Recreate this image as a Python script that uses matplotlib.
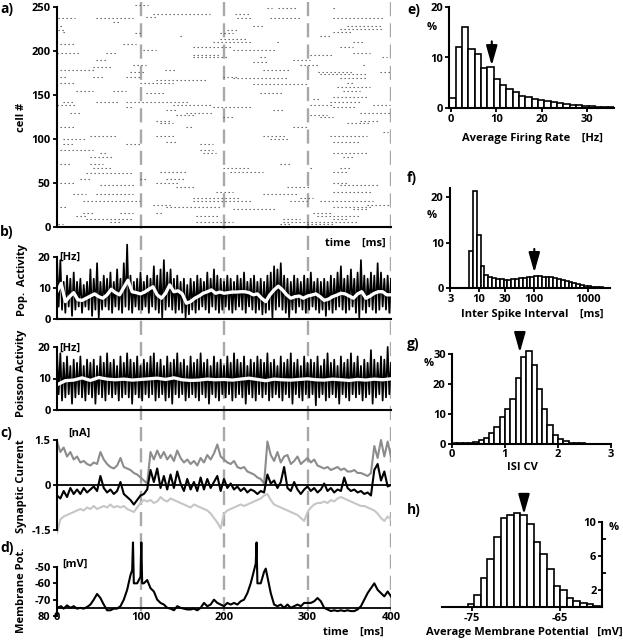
import numpy as np
import matplotlib
matplotlib.use("Agg")
import matplotlib.pyplot as plt

plt.rcParams["font.family"] = ["Open Sans", "DejaVu Sans"]
plt.rcParams["font.weight"] = "bold"
plt.rcParams["font.size"] = 8
plt.rcParams["axes.linewidth"] = 1.5
plt.rcParams["axes.facecolor"] = "none"

W, H = 623, 640

# ---------------- data ----------------
# a) raster: bursts as (cell, start ms, end ms)
raster_bursts = [
    (252, 93, 109), (249, 251, 257), (249, 265, 287), (249, 331, 333),
    (242, 115, 183), (242, 213, 231), (239, 107, 119),
    (237, 1, 21), (237, 47, 91), (237, 215, 235), (237, 255, 291), (237, 331, 391),
    (233, 67, 75), (229, 3, 6), (229, 235, 247), (229, 347, 389), (225, 339, 391),
    (224, 1, 11), (224, 203, 215), (222, 7, 11), (222, 331, 355),
    (220, 93, 103), (220, 195, 211), (217, 147, 151), (217, 315, 327), (214, 195, 227),
    (210, 187, 235), (210, 263, 267), (210, 355, 367), (208, 3, 23), (208, 79, 95),
    (205, 163, 211), (205, 339, 355), (201, 103, 119), (201, 211, 263),
    (198, 0, 27), (198, 59, 71), (198, 355, 375), (196, 163, 195), (196, 303, 331),
    (193, 163, 203), (193, 243, 251), (193, 389, 395), (190, 47, 59), (190, 283, 303),
    (187, 235, 251), (184, 91, 107), (184, 291, 315), (184, 367, 371), (182, 43, 67),
    (179, 3, 47), (179, 129, 143), (179, 247, 279), (176, 87, 107), (176, 313, 355),
    (176, 387, 400), (174, 315, 371), (171, 3, 11), (171, 43, 55), (171, 83, 99),
    (171, 199, 215), (169, 211, 275), (169, 339, 371), (167, 119, 179),
    (164, 3, 23), (164, 99, 139), (164, 347, 355), (162, 235, 299), (159, 335, 375),
    (155, 23, 43), (155, 67, 83), (155, 343, 363), (152, 107, 131), (152, 243, 271),
    (148, 331, 371), (146, 307, 315), (142, 7, 19), (142, 47, 75), (142, 83, 159),
    (142, 327, 363), (139, 0, 23), (139, 139, 187), (139, 303, 331), (139, 379, 399),
    (136, 83, 91), (136, 187, 235), (136, 331, 359), (133, 131, 143), (133, 259, 271),
    (130, 15, 27), (130, 155, 187), (130, 363, 399), (127, 143, 167), (127, 303, 323),
    (125, 199, 211), (125, 315, 331), (121, 119, 135), (121, 363, 387),
    (118, 123, 139), (118, 347, 375), (114, 3, 23), (114, 155, 163), (114, 283, 299),
    (108, 391, 397), (103, 39, 71), (103, 119, 143), (103, 247, 275), (103, 327, 371),
    (100, 7, 35), (100, 255, 279), (97, 131, 143), (97, 331, 363),
    (94, 7, 19), (94, 83, 99), (94, 171, 187), (88, 3, 43), (88, 171, 187),
    (84, 51, 59), (84, 175, 191), (84, 331, 371), (80, 39, 67), (80, 343, 355),
    (72, 3, 15), (72, 39, 55), (72, 267, 279), (67, 43, 67), (67, 199, 231),
    (67, 303, 307), (67, 339, 351), (63, 123, 155), (63, 207, 247), (63, 331, 347),
    (61, 35, 91), (54, 27, 39), (54, 99, 107), (54, 131, 155),
    (50, 3, 23), (50, 119, 147), (50, 331, 347), (48, 51, 95), (48, 339, 387),
    (46, 143, 167), (46, 275, 303), (40, 191, 211), (40, 331, 379),
    (37, 19, 35), (37, 47, 91), (37, 247, 287), (33, 163, 219), (33, 291, 307),
    (30, 31, 99), (30, 163, 235), (30, 279, 299), (30, 315, 379),
    (25, 115, 139), (25, 371, 399), (23, 3, 11), (23, 131, 195), (23, 331, 379),
    (20, 211, 263), (20, 355, 371), (16, 31, 43), (16, 75, 91), (16, 119, 127),
    (16, 307, 331), (12, 23, 35), (12, 167, 195), (12, 311, 363),
    (9, 35, 91), (9, 271, 291), (9, 331, 347), (6, 63, 75), (6, 167, 211),
    (6, 271, 359), (3, 1, 7), (3, 267, 279), (3, 299, 331),
]

# b) population activity [Hz]: peaks every 4 ms (from 0), troughs every 4 ms (from 2)
pop_hi = [20, 19, 12, 14, 13, 15, 12, 13, 11, 12,
          16, 13, 18, 12, 14, 13, 15, 12, 16, 13,
          18, 24, 14, 12, 13, 15, 12, 14, 13, 17,
          14, 16, 19, 15, 16, 13, 14, 12, 13, 11,
          13, 12, 14, 13, 12, 15, 13, 16, 14, 13,
          12, 14, 13, 12, 14, 13, 15, 12, 13, 14,
          12, 13, 12, 14, 15, 17, 16, 18, 14, 13,
          12, 14, 13, 12, 14, 13, 15, 12, 13, 12,
          13, 12, 14, 13, 15, 17, 13, 14, 16, 13,
          15, 19, 14, 13, 15, 14, 18, 15, 13, 14,
          13]
pop_lo = [4, 3, 2, 4, 1, 3, 4, 2, 4, 3,
          1, 3, 0.5, 3, 4, 3, 2, 4, 3, 2,
          4, 3, 2, 4, 3, 3, 4, 2, 4, 3,
          2, 0.5, 3, 4, 3, 2, 3, 2, 0.5, 1.5,
          3, 2, 3, 4, 3, 2, 4, 3, 2, 3,
          4, 3, 2, 3, 4, 3, 2, 4, 3, 2,
          3, 1.5, 2, 3, 0.5, 3, 4, 3, 2, 0.5,
          3, 2, 4, 3, 2, 3, 4, 3, 2, 3,
          1, 3, 2, 3, 4, 3, 2, 3, 4, 2,
          0.5, 3, 2, 4, 3, 2, 3, 4, 3, 2]
# smoothed population rate, every 5 ms
pop_mean = [8.8, 11.5, 5.6, 7.2, 8.5, 6.2, 6.0, 6.7, 7.4, 8.1,
            7.2, 6.7, 7.8, 9.6, 8.5, 7.8, 10.2, 12.5, 8.8, 8.5,
            8.1, 8.7, 9.6, 10.4, 7.8, 6.7, 8.3, 11.0, 8.8, 9.1,
            8.1, 5.1, 5.6, 6.7, 7.4, 8.3, 8.8, 9.4, 8.3, 8.7,
            8.3, 8.5, 8.7, 8.7, 8.8, 8.8, 8.5, 7.8, 8.1, 6.7,
            5.6, 7.8, 9.4, 10.6, 9.4, 7.8, 6.7, 7.2, 7.4, 6.7,
            7.4, 7.7, 8.1, 7.2, 6.0, 6.4, 7.2, 7.7, 8.3, 8.1,
            7.4, 6.7, 8.1, 8.8, 6.7, 7.4, 8.3, 8.8, 8.8, 7.8,
            7.8]

# Poisson activity [Hz]
poi_hi = [19, 18, 15, 17, 14, 16, 15, 17, 14, 16,
          15, 16, 14, 17, 15, 18, 15, 16, 14, 17,
          15, 18, 16, 15, 17, 14, 16, 15, 17, 18,
          15, 16, 14, 17, 15, 16, 18, 15, 16, 14,
          17, 15, 16, 18, 15, 16, 14, 17, 15, 16,
          14, 17, 15, 18, 16, 15, 17, 14, 16, 15,
          17, 16, 15, 18, 15, 16, 14, 17, 15, 16,
          18, 15, 16, 14, 17, 15, 16, 15, 17, 14,
          16, 18, 15, 16, 14, 17, 15, 16, 18, 15,
          17, 14, 16, 15, 19, 16, 15, 17, 16, 20,
          15]
poi_lo = [5, 3, 4, 5, 2, 4, 5, 4, 3, 5,
          4, 2, 5, 4, 3, 5, 4, 5, 3, 4,
          5, 4, 2, 5, 4, 3, 5, 4, 5, 3,
          4, 5, 3, 4, 2, 5, 4, 5, 3, 4,
          5, 4, 3, 5, 4, 2, 5, 4, 3, 5,
          4, 5, 3, 4, 5, 4, 2, 5, 4, 3,
          5, 4, 5, 3, 4, 5, 4, 3, 5, 4,
          2, 5, 4, 3, 5, 4, 5, 1.5, 4, 5,
          3, 4, 5, 4, 2, 5, 4, 3, 5, 4,
          5, 3, 4, 5, 2, 4, 5, 3, 4, 5]
# smoothed Poisson rate, every 10 ms
poi_mean = [8.0, 9.3, 9.5, 10.2, 9.4, 10.3, 9.8, 9.6, 9.8, 9.5,
            9.7, 9.9, 10.1, 9.7, 10.2, 9.6, 9.4, 9.5, 9.8, 9.6,
            9.7, 9.5, 9.8, 10.1, 9.7, 9.3, 9.8, 9.6, 9.5, 9.7,
            9.9, 9.6, 9.5, 9.8, 9.6, 9.4, 9.7, 9.5, 9.8, 9.6,
            9.9]

# c) synaptic currents [nA], every 4 ms
cur_exc = [1.45, 1.1, 1.25, 0.95, 1.1, 0.85, 0.95, 0.75, 0.8, 0.7,
           0.65, 0.75, 0.7, 1.1, 0.85, 0.7, 0.6, 0.55, 0.65, 0.9,
           0.6, 0.55, 0.5, 0.4, 0.35, 0.25, 0.15, 0.05, 1.1, 0.85,
           1.15, 0.9, 1.1, 0.85, 1.0, 0.8, 1.15, 0.9, 0.75, 0.85,
           0.7, 0.8, 0.65, 0.9, 0.75, 1.0, 0.85, 1.05, 1.35, 0.95,
           0.85, 0.75, 0.7, 0.8, 0.6, 0.55, 0.6, 0.45, 0.4, 0.35,
           0.25, 0.2, 0.05, 1.45, 1.0, 0.8, 1.1, 0.75, 0.95, 1.0,
           0.7, 0.8, 0.95, 0.7, 0.8, 0.9, 0.75, 0.85, 0.65, 0.6,
           0.55, 0.6, 0.5, 0.55, 0.6, 0.5, 0.55, 0.45, 0.45, 0.5,
           0.4, 0.4, 0.35, 0.3, 0.4, 1.3, 0.9, 1.5, 0.95, 1.45,
           0.95]
cur_inh = [-1.6, -1.15, -1.05, -1.0, -0.95, -0.9, -0.85, -0.8, -0.85, -0.75,
           -0.8, -0.7, -0.8, -0.75, -0.7, -0.75, -0.65, -0.75, -0.7, -0.75,
           -0.7, -0.8, -0.85, -0.9, -0.75, -0.6, -0.5, -0.55, -0.5, -0.6,
           -0.55, -0.4, -0.5, -0.55, -0.45, -0.5, -0.55, -0.6, -0.65, -0.7,
           -0.75, -0.65, -0.7, -0.75, -0.8, -0.85, -0.95, -1.1, -1.25, -1.45,
           -0.95, -0.85, -0.8, -0.75, -0.7, -0.65, -0.7, -0.65, -0.6, -0.55,
           -0.5, -0.45, -0.35, -0.3, -0.5, -0.65, -0.7, -0.75, -0.8, -0.85,
           -0.9, -0.95, -1.0, -1.1, -1.2, -0.9, -0.75, -0.65, -0.6, -0.6,
           -0.55, -0.6, -0.5, -0.55, -0.45, -0.4, -0.45, -0.5, -0.55, -0.6,
           -0.65, -0.7, -0.7, -0.75, -0.8, -0.85, -0.95, -1.1, -1.2, -1.05,
           -1.15]
cur_net = [-0.35, -0.45, -0.2, -0.4, -0.1, -0.3, -0.15, -0.3, -0.1, -0.25,
           -0.15, -0.05, -0.2, 0.3, -0.1, -0.25, -0.15, -0.3, -0.2, 0.1,
           -0.3, -0.4, -0.5, -0.65, -0.5, -0.35, -0.3, -0.15, 0.5, 0.1,
           0.55, -0.1, 0.3, -0.15, 0.35, -0.1, 0.45, 0.05, -0.2, 0.2,
           -0.15, 0.1, -0.2, 0.25, -0.15, 0.2, -0.1, 0.1, 0.3, -0.2,
           0.2, -0.1, 0.05, -0.15, -0.05, -0.2, -0.1, -0.25, -0.15, -0.2,
           -0.3, -0.2, -0.25, 0.35, 0.05, 0.15, -0.1, 0.1, 0.6, -0.1,
           -0.2, 0.1, -0.15, -0.3, -0.15, -0.05, -0.2, -0.1, -0.25, -0.15,
           0.05, -0.2, -0.1, -0.25, -0.15, -0.2, 0.25, -0.1, -0.2, -0.15,
           -0.25, -0.2, -0.3, -0.25, -0.35, 0.5, 0.7, 0.15, 0.45, -0.05,
           0.0]

# d) membrane potential [mV]
vm_t = [0, 5, 8, 12, 16, 20, 24, 28, 32, 36, 40, 44, 48, 52, 56, 60, 64, 68, 72, 76,
        80, 84, 88, 90, 91, 92, 96, 100, 101, 102, 104, 108, 112, 116, 120, 124, 128, 132, 136, 140,
        144, 148, 152, 156, 160, 164, 168, 172, 176, 180, 184, 188, 192, 196, 200, 204, 208, 212, 216, 220,
        224, 228, 232, 236, 238, 239, 240, 244, 248, 250, 252, 256, 260, 264, 268, 272, 276, 280, 284, 288,
        292, 296, 300, 304, 308, 312, 316, 320, 324, 328, 332, 336, 340, 344, 348, 352, 356, 360, 364, 368,
        372, 376, 380, 384, 388, 392, 396, 400]
vm_v = [-75, -74, -75.5, -73.5, -75, -74, -75.5, -75, -75.5, -74.5, -73, -70, -66.5, -69, -73, -76.5, -76.5, -75.5, -75.5, -74,
        -70, -64, -55, -52, -35, -60, -60, -56, -35, -60, -60, -58, -63, -65, -70, -72, -73, -75, -75.5, -76.5,
        -74, -75, -75.5, -76, -76, -75.5, -76.5, -75, -72, -74, -73, -70, -72, -73, -74, -72, -73, -72, -73, -71,
        -70, -66, -60, -52, -48, -35, -60, -60, -53, -51, -56, -66, -73, -74, -73, -75, -73, -75, -74, -73,
        -74, -72, -72, -72, -71, -69, -71, -75, -76, -77, -76.5, -77, -76.5, -77, -76.5, -77, -77, -76, -74, -70,
        -66, -63, -60, -64, -66, -68, -65, -68]
vm_rest = -75

marker_times = [100, 200, 300, 400]

# e) average firing rate histogram
fr_edges = [-0.4, 1.0, 2.4, 3.8, 5.2, 6.6, 8.0, 9.4, 10.8, 12.2, 13.6, 15.0, 16.4, 17.8,
            19.2, 20.6, 22.0, 23.4, 24.8, 26.2, 27.6, 29.0, 30.4, 31.8, 33.2, 34.6, 36.0]
fr_pct = [2.0, 12.1, 16.0, 11.6, 10.6, 8.0, 8.2, 5.7, 4.5, 3.7, 3.2, 2.4, 2.2,
          1.7, 1.6, 1.3, 1.2, 0.9, 0.8, 0.6, 0.5, 0.35, 0.3, 0.2, 0.15, 0.1]
fr_mean = 9.0

# f) inter spike interval histogram (log10 bin edges)
isi_log_edges = [round(0.82 + 0.07 * k, 2) for k in range(37)]
isi_pct = [8.1, 21.3, 11.7, 4.9, 2.9, 2.5, 2.2, 2.0, 1.9, 1.8,
           1.8, 1.9, 2.0, 2.1, 2.3, 2.4, 2.5, 2.6, 2.6, 2.5,
           2.5, 2.4, 2.2, 2.0, 1.8, 1.6, 1.3, 1.1, 0.9, 0.7,
           0.5, 0.4, 0.3, 0.2, 0.15, 0.1]
isi_mean = 103

# g) ISI CV histogram
cv_edges = [round(0.1 * k, 1) for k in range(27)]
cv_pct = [0.3, 0.3, 0.3, 0.4, 0.8, 1.2, 2.0, 3.8, 5.7, 8.9, 11.6, 15.0, 22.0,
          29.0, 31.0, 26.5, 18.2, 11.8, 6.3, 3.0, 1.8, 1.0, 0.5, 0.3, 0.2, 0.1]
cv_mean = 1.28

# h) average membrane potential histogram
mp_edges = [-75.5 + 0.75 * k for k in range(21)]
mp_pct = [0.35, 1.45, 3.4, 5.7, 8.2, 10.5, 10.8, 11.1, 10.8, 9.8,
          7.7, 6.2, 4.5, 2.5, 2.0, 1.1, 0.7, 0.5, 0.3, 0.1]
mp_mean = -69.1

# ---------------- figure ----------------
fig = plt.figure(figsize=(W / 100, H / 100), dpi=100)


def place(l, t, r, b):
    return fig.add_axes([l / W, 1 - b / H, (r - l) / W, (b - t) / H])


def ftext(x, y, s, **kw):
    kw.setdefault("ha", "center")
    kw.setdefault("va", "center")
    fig.text(x / W, 1 - y / H, s, **kw)


def clean(ax, left=True, bottom=True):
    ax.spines["top"].set_visible(False)
    ax.spines["right"].set_visible(False)
    ax.spines["left"].set_visible(left)
    ax.spines["bottom"].set_visible(bottom)
    ax.tick_params(width=1.3, length=3, pad=1.5)


def arrow(ax, x, top, tip):
    ax.annotate("", xy=(x, tip), xytext=(x, top),
                arrowprops=dict(arrowstyle="-|>,head_length=0.6,head_width=0.17",
                                mutation_scale=20, color="k", lw=1.5,
                                shrinkA=0, shrinkB=0),
                annotation_clip=False)


def zigzag(hi, lo, step):
    t = np.concatenate([np.arange(len(hi)) * step, np.arange(len(lo)) * step + step / 2])
    v = np.concatenate([hi, lo])
    order = np.argsort(t, kind="stable")
    return t[order], v[order]


# dashed time markers across the left column
ov = fig.add_axes([57 / W, 0, 334 / W, 1])
ov.set_xlim(0, 400)
ov.set_ylim(H, 0)
ov.axis("off")
ov.set_zorder(-1)
ov.vlines(marker_times, 2, 613, colors="#a8a8a8", lw=1.7, linestyles=[(0, (6, 3))])

# a) raster
ax = place(57, 0, 391, 227)
clean(ax)
cells, t0, t1 = zip(*raster_bursts)
ax.hlines(cells, t0, t1, colors="#555555", lw=0.8, linestyles=[(0, (1.2, 2.4))])
ax.set_xlim(0, 400)
ax.set_ylim(0, 258)
ax.spines["left"].set_bounds(0, 250)
ax.set_yticks([0, 50, 100, 150, 200, 250])
ax.set_xticks([])

# b) population activity
ax = place(57, 241.5, 391, 319)
clean(ax)
t, v = zigzag(pop_hi, pop_lo, 4)
ax.plot(t, v, color="k", lw=1.25)
ax.plot(np.arange(len(pop_mean)) * 5, pop_mean, color="white", lw=2.4)
ax.set_xlim(0, 400)
ax.set_ylim(0, 25)
ax.spines["left"].set_bounds(0, 20)
ax.set_yticks([0, 10, 20])
ax.set_xticks([])
ax.text(3, 20, "[Hz]", ha="left", va="center")

ax = place(57, 340.7, 391, 410)
clean(ax)
t, v = zigzag(poi_hi, poi_lo, 4)
ax.plot(t, v, color="k", lw=1.25)
ax.plot(np.arange(len(poi_mean)) * 10, poi_mean, color="white", lw=2.4)
ax.set_xlim(0, 400)
ax.set_ylim(0, 22)
ax.spines["left"].set_bounds(0, 20)
ax.set_yticks([0, 10, 20])
ax.set_xticks([])
ax.text(3, 19.7, "[Hz]", ha="left", va="center")

# c) synaptic currents
ax = place(57, 434, 391, 536)
clean(ax, bottom=False)
tc = np.arange(len(cur_exc)) * 4
ax.plot(tc, cur_exc, color="#8c8c8c", lw=1.5)
ax.plot(tc, cur_inh, color="#c6c6c6", lw=1.5)
ax.axhline(0, color="k", lw=1.3)
ax.plot(tc, cur_net, color="k", lw=1.5)
ax.set_xlim(0, 400)
ax.set_ylim(-1.7, 1.7)
ax.spines["left"].set_bounds(-1.5, 1.5)
ax.set_yticks([-1.5, 0, 1.5])
ax.set_yticklabels(["-1.5", "0", "1.5"])
ax.set_xticks([])
ax.text(14, 1.72, "[nA]", ha="left", va="center")

# d) membrane potential
ax = place(57, 539.2, 391, 616)
clean(ax, bottom=False)
ax.axhline(vm_rest, color="k", lw=1.3)
ax.plot(vm_t, vm_v, color="k", lw=1.5)
ax.set_xlim(0, 400)
ax.set_ylim(-80, -33)
ax.spines["left"].set_bounds(-80, -50)
ax.set_yticks([-80, -70, -60, -50])
ax.set_yticklabels(["80", "-70", "-60", "-50"])
ax.set_xticks([0, 100, 200, 300, 400])
ax.tick_params(axis="x", length=0, pad=-3)
ax.text(6, -48.2, "[mV]", ha="left", va="center")

# e) firing rate histogram
ax = place(449.2, 7, 614, 108)
clean(ax)
ax.bar(fr_edges[:-1], fr_pct, width=np.diff(fr_edges), align="edge",
       color="white", edgecolor="k", lw=1.2)
ax.set_xlim(-0.4, 36)
ax.set_ylim(0, 20)
ax.set_xticks([0, 10, 20, 30])
ax.set_yticks([0, 10, 20])
arrow(ax, fr_mean, 13.2, 8.4)

# f) ISI histogram
ax = place(450, 188, 610, 288)
clean(ax)
lefts = 10 ** np.array(isi_log_edges[:-1])
rights = 10 ** np.array(isi_log_edges[1:])
ax.bar(lefts, isi_pct, width=rights - lefts, align="edge",
       color="white", edgecolor="k", lw=1.2)
ax.set_xscale("log")
ax.set_xlim(10 ** 0.468, 10 ** 3.4)
ax.set_ylim(0, 22)
ax.set_xticks([3, 10, 30, 100, 1000])
ax.set_xticklabels(["3", "10", "30", "100", "1000"])
ax.xaxis.set_minor_locator(matplotlib.ticker.NullLocator())
ax.set_yticks([0, 10, 20])
arrow(ax, isi_mean, 8.6, 3.4)

# g) ISI CV histogram
ax = place(452, 348, 611, 444)
clean(ax)
ax.bar(cv_edges[:-1], cv_pct, width=np.diff(cv_edges), align="edge",
       color="white", edgecolor="k", lw=1.2)
ax.set_xlim(0, 3)
ax.set_ylim(0, 32)
ax.spines["left"].set_bounds(0, 30)
ax.set_xticks([0, 1, 2, 3])
ax.set_yticks([0, 10, 20, 30])
ax.tick_params(axis="x", pad=0.5)
arrow(ax, cv_mean, 36, 30.5)

# h) membrane potential histogram
ax = place(442, 509.25, 602, 607)
ax.spines["top"].set_visible(False)
ax.spines["left"].set_visible(False)
ax.bar(mp_edges[:-1], mp_pct, width=np.diff(mp_edges), align="edge",
       color="white", edgecolor="k", lw=1.2)
ax.set_xlim(-78.4, -60.25)
ax.set_ylim(0, 11.5)
ax.spines["right"].set_bounds(0, 10)
ax.yaxis.tick_right()
ax.set_yticks([2, 6, 10])
ax.set_yticks([4, 8], minor=True)
ax.tick_params(axis="y", which="major", direction="in", length=3, width=1.3, pad=-4)
ax.tick_params(axis="y", which="minor", direction="out", length=3, width=1.3)
for lbl in ax.get_yticklabels():
    lbl.set_horizontalalignment("right")
ax.set_xticks([-75, -65])
ax.set_xticklabels(["-75", "-65"])
ax.tick_params(axis="x", width=1.3, length=3, pad=1.0)
arrow(ax, mp_mean, 13.3, 10.9)

# ---------------- labels ----------------
for s, x, y in [("a)", 0, 9), ("b)", 0, 232), ("c)", 0, 433), ("d)", 0, 548),
                ("e)", 407, 10), ("f)", 407, 178), ("g)", 407, 344), ("h)", 407, 510)]:
    ftext(x, y, s, ha="left", fontsize=10)

for s, y in [("cell #", 117), ("Pop.  Activity", 280), ("Poisson Activity", 373),
             ("Synaptic Current", 486), ("Membrane Pot.", 590)]:
    ftext(22, y, s, rotation=90, fontsize=8)

ftext(386, 243, "time    [ms]", ha="right")
ftext(384, 632, "time    [ms]", ha="right")

ftext(432, 27, "%")
ftext(532, 138, "Average Firing Rate    [Hz]")
ftext(432, 215, "%")
ftext(532, 314, "Inter Spike Interval    [ms]")
ftext(429, 363, "%")
ftext(522, 467, "ISI CV")
ftext(614, 528, "%")
ftext(524, 633, "Average Membrane Potential   [mV]")

fig.savefig("out.png", dpi=100)
